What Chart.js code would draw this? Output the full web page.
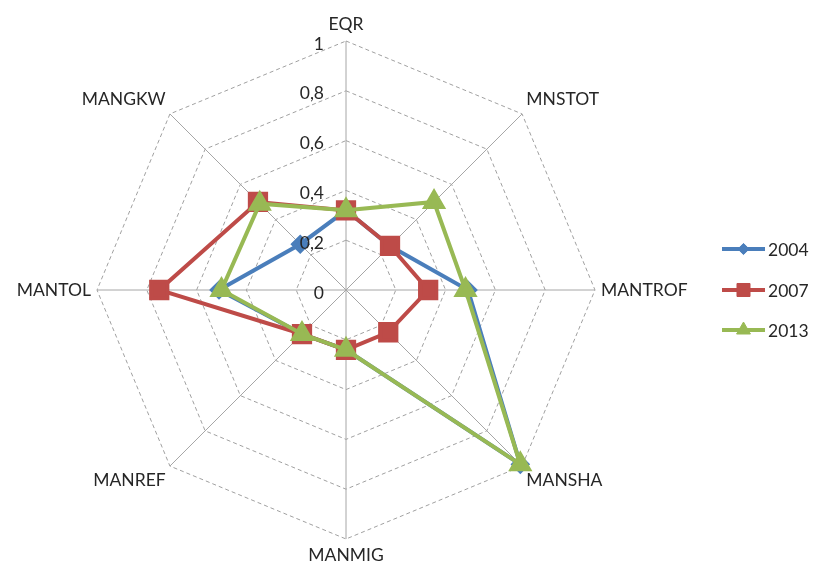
<!DOCTYPE html>
<html>
<head>
<meta charset="utf-8">
<script src="https://cdn.jsdelivr.net/npm/chart.js@4/dist/chart.umd.min.js"></script>
<style>
html,body{margin:0;padding:0;background:#fff;}
canvas{display:block;}
</style>
</head>
<body>
<canvas id="c" width="813" height="569"></canvas>
<script>
const categories = ['EQR','MNSTOT','MANTROF','MANSHA','MANMIG','MANREF','MANTOL','MANGKW'];
const seriesNames = ['2004','2007','2013'];
const values2004 = [0.32, 0.25, 0.49, 0.99, 0.24, 0.25, 0.51, 0.26];
const values2007 = [0.32, 0.25, 0.33, 0.24, 0.24, 0.25, 0.75, 0.50];
const values2013 = [0.32, 0.50, 0.48, 0.99, 0.24, 0.25, 0.50, 0.49];
const tickValues = [0, 0.2, 0.4, 0.6, 0.8, 1];
const tickLabels = ['0', '0,2', '0,4', '0,6', '0,8', '1'];

const FONT = 'Lato, "Open Sans", sans-serif';
const TEXT = '#262626';

const tickLabelPlugin = {
  id: 'tickLabels',
  afterDatasetsDraw(chart) {
    const s = chart.scales.r;
    const ctx = chart.ctx;
    ctx.save();
    ctx.font = '17.5px ' + FONT;
    ctx.fillStyle = TEXT;
    ctx.textAlign = 'right';
    ctx.textBaseline = 'middle';
    tickValues.forEach((v, i) => {
      const d = s.getDistanceFromCenterForValue(v);
      ctx.fillText(tickLabels[i], s.xCenter - 22, s.yCenter - d + 3);
    });
    ctx.restore();
  }
};

const legendPlugin = {
  id: 'lineLegend',
  afterDraw(chart) {
    const ctx = chart.ctx;
    const x0 = 722, x1 = 765;
    const ys = [249, 290, 330];
    chart.data.datasets.forEach((ds, i) => {
      const y = ys[i];
      ctx.save();
      ctx.strokeStyle = ds.borderColor;
      ctx.lineWidth = ds.borderWidth;
      ctx.beginPath();
      ctx.moveTo(x0, y);
      ctx.lineTo(x1, y);
      ctx.stroke();
      ctx.fillStyle = ds.pointBackgroundColor;
      ctx.strokeStyle = ds.pointBorderColor;
      ctx.lineWidth = 1;
      Chart.helpers.drawPoint(ctx, {
        pointStyle: ds.pointStyle,
        radius: ds.pointRadius * 0.8,
        rotation: 0,
        borderWidth: 1
      }, (x0 + x1) / 2, y);
      ctx.restore();
      ctx.save();
      ctx.font = '17.5px ' + FONT;
      ctx.fillStyle = TEXT;
      ctx.textAlign = 'left';
      ctx.textBaseline = 'middle';
      ctx.fillText(ds.label, x1 + 3, y + 1);
      ctx.restore();
    });
  }
};

function mkDs(label, data, color, style, radius, order) {
  return {
    label, data, order,
    borderColor: color,
    backgroundColor: color,
    pointBackgroundColor: color,
    pointBorderColor: color,
    borderWidth: 4,
    pointStyle: style,
    pointRadius: radius,
    pointHoverRadius: radius,
    fill: false,
    tension: 0
  };
}

new Chart(document.getElementById('c'), {
  type: 'radar',
  data: {
    labels: categories,
    datasets: [
      mkDs(seriesNames[0], values2004, '#4A7EBB', 'rectRot', 7, 3),
      mkDs(seriesNames[1], values2007, '#BE4B48', 'rect', 11.5, 2),
      mkDs(seriesNames[2], values2013, '#98B954', 'triangle', 10, 1)
    ]
  },
  options: {
    responsive: false,
    animation: false,
    layout: { padding: { left: 8, right: 115, top: 14, bottom: 3 } },
    plugins: { legend: { display: false }, tooltip: { enabled: false } },
    scales: {
      r: {
        min: 0, max: 1,
        ticks: { stepSize: 0.2, display: false },
        grid: { color: '#A0A0A0', lineWidth: 1 },
        border: { dash: [4, 3] },
        angleLines: { color: '#A6A6A6', lineWidth: 1 },
        pointLabels: { font: { family: FONT, size: 17.5 }, color: TEXT, padding: 6 }
      }
    }
  },
  plugins: [tickLabelPlugin, legendPlugin]
});
</script>
</body>
</html>
